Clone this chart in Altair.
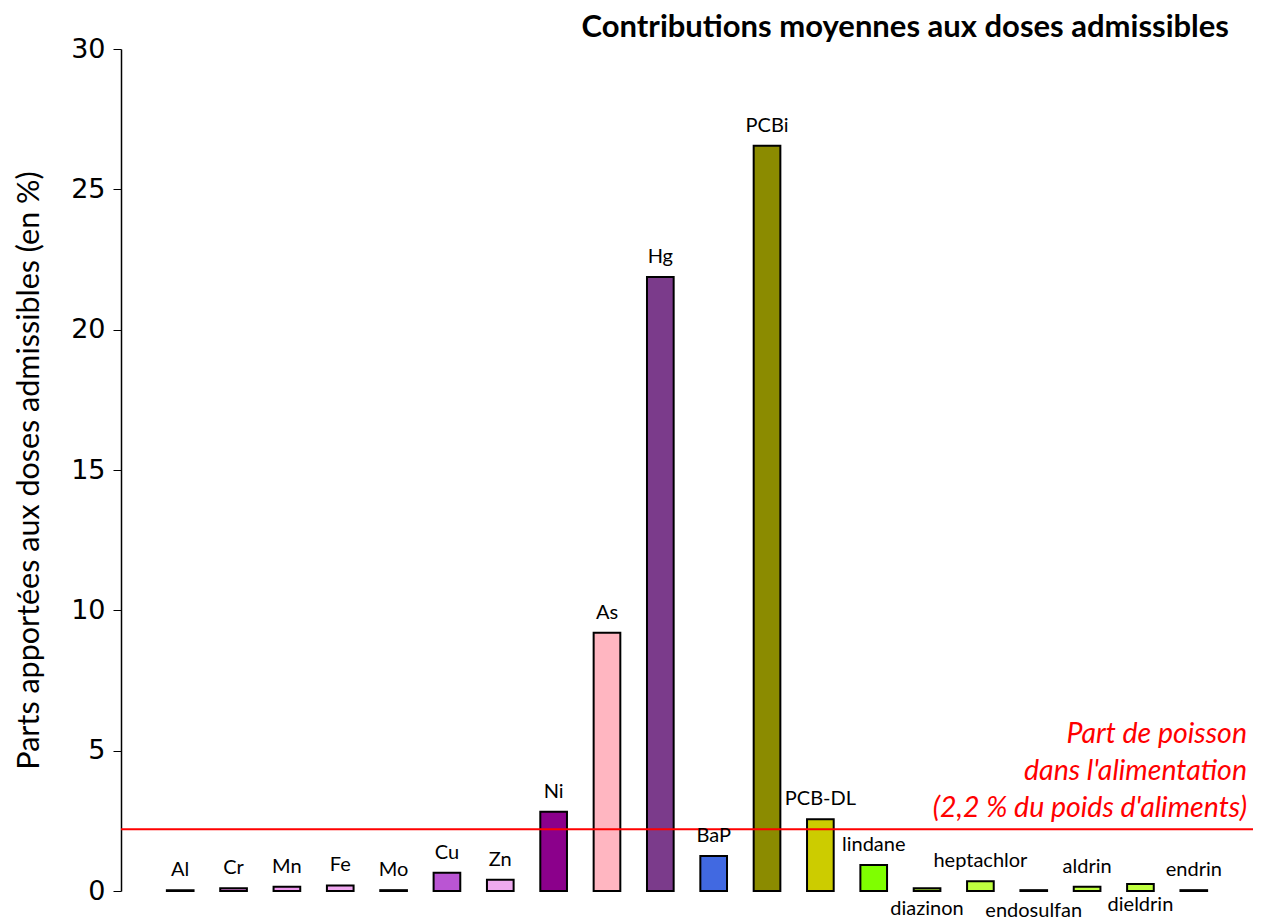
import altair as alt
import pandas as pd

names = ["Al", "Cr", "Mn", "Fe", "Mo", "Cu", "Zn", "Ni", "As", "Hg", "BaP", "PCBi",
         "PCB-DL", "lindane", "diazinon", "heptachlor", "endosulfan", "aldrin", "dieldrin", "endrin"]
values = [0.03, 0.1, 0.15, 0.2, 0.03, 0.65, 0.4, 2.82, 9.2, 21.88, 1.25, 26.55,
          2.56, 0.93, 0.1, 0.35, 0.03, 0.15, 0.25, 0.03]
colors = ["#000000", "#cc77cc", "#ee99ee", "#f0a8f0", "#000000", "#ba55d3", "#efaaef",
          "#8b008b", "#ffb6c1", "#7b3b8b", "#4169e1", "#8b8b00", "#cccc00", "#7fff00",
          "#9acd32", "#bfff3f", "#000000", "#bfff3f", "#bfff3f", "#000000"]
labels_below = ["diazinon", "endosulfan", "dieldrin"]
threshold = 2.2
annotation = ["Part de poisson", "dans l'alimentation", "(2,2 % du poids d'aliments)"]

df = pd.DataFrame({"name": names, "value": values, "color": colors})
df["below"] = df["name"].isin(labels_below)
one = pd.DataFrame({"t": [threshold], "txt": ["\n".join(annotation)]})

W, H = 1132, 842
FONT = "Lato"

x = alt.X("name:N", sort=names, axis=None,
          scale=alt.Scale(paddingInner=0.5, paddingOuter=0.86))
y = alt.Y("value:Q", scale=alt.Scale(domain=[0, 30], nice=False),
          axis=alt.Axis(values=[0, 5, 10, 15, 20, 25, 30], grid=False, domainColor="black",
                        tickColor="black", tickSize=8, labelFontSize=27, labelFont="DejaVu Sans",
                        labelColor="black", labelPadding=8, domainWidth=1.5,
                        title="Parts apportées aux doses admissibles (en %)",
                        titleFontSize=30.5, titleFont=FONT, titleFontWeight="normal",
                        titleColor="black", titlePadding=26))

bars = alt.Chart(df).mark_bar(stroke="black", strokeWidth=2).encode(
    x=x, y=y, color=alt.Color("color:N", scale=None))

lab_above = alt.Chart(df).transform_filter("!datum.below").mark_text(
    fontSize=20, font=FONT, dy=-14, baseline="alphabetic", color="black").encode(
    x=x, y="value:Q", text="name:N")
lab_below = alt.Chart(df).transform_filter("datum.below").mark_text(
    fontSize=20, font=FONT, dy=27, baseline="alphabetic", color="black").encode(
    x=x, y="value:Q", text="name:N")

rule = alt.Chart(one).mark_rule(color="#ff0000", strokeWidth=2).encode(
    y=alt.Y("t:Q"), x=alt.value(0), x2=alt.value(W))

ann = alt.Chart(one).mark_text(fontSize=28.5, font=FONT, fontStyle="italic",
                               color="#ff0000", align="right", baseline="middle",
                               lineBreak="\n", lineHeight=37).encode(
    x=alt.value(W - 6), y=alt.value(685), text="txt:N")

chart = alt.layer(bars, rule, lab_above, lab_below, ann).properties(
    width=W, height=H,
    title=alt.TitleParams("Contributions moyennes aux doses admissibles", anchor="end",
                          fontSize=31, font=FONT, fontWeight="bold", color="black",
                          dx=-25, offset=-9),
    autosize=alt.AutoSizeParams(type="none"),
    padding={"left": 113, "top": 41, "right": 2, "bottom": 30},
).configure_view(stroke=None)

chart.save("out.html", embed_options={"renderer": "svg", "actions": False})
